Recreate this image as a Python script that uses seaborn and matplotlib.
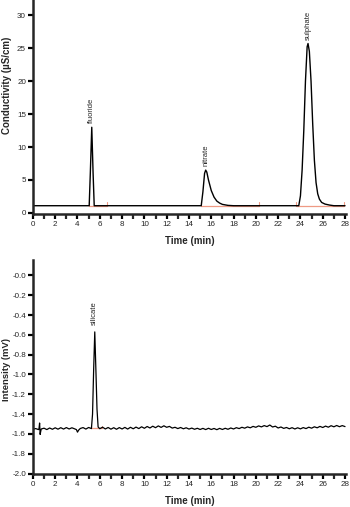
import numpy as np
import pandas as pd
import matplotlib
matplotlib.use("Agg")
import matplotlib.pyplot as plt
from matplotlib.ticker import MultipleLocator, FuncFormatter
import seaborn as sns

# ---------------- data ----------------
# top chromatogram: conductivity trace
cond_time = [0.0, 5.05, 5.15, 5.28, 5.40, 5.50, 15.10, 15.25, 15.40, 15.50, 15.60,
             15.75, 16.00, 16.25, 16.50, 16.75, 17.00, 17.50, 18.00, 23.85, 24.00,
             24.15, 24.30, 24.45, 24.60, 24.68, 24.80, 24.95, 25.10, 25.25, 25.40,
             25.55, 25.70, 25.90, 26.20, 26.60, 27.00, 28.00]
cond_value = [1.1, 1.1, 6.0, 13.0, 6.0, 1.1, 1.1, 3.2, 6.0, 6.5, 6.2,
              5.0, 3.4, 2.4, 1.8, 1.5, 1.3, 1.15, 1.1, 1.1, 2.6,
              6.5, 12.5, 20.0, 25.2, 25.7, 24.5, 20.0, 13.5, 8.0, 4.6,
              2.9, 2.1, 1.6, 1.35, 1.2, 1.1, 1.1]
cond_baseline_start = [5.0, 15.05, 23.6]
cond_baseline_end = [6.65, 20.25, 27.95]
cond_baseline_level = [1.05, 1.05, 1.05]
cond_peaks = ["fluoride", "nitrate", "sulphate"]
cond_peak_time = [5.28, 15.50, 24.68]
cond_peak_height = [13.0, 6.5, 25.7]

# bottom chromatogram: intensity trace
int_time = [0.0, 0.25, 0.5, 0.55, 0.6, 0.65, 0.7, 0.75, 1.0, 1.25, 1.5, 1.75,
            2.0, 2.25, 2.5, 2.75, 3.0, 3.25, 3.5, 3.75, 3.9, 4.0, 4.1, 4.25,
            4.5, 4.75, 5.0, 5.25, 5.35, 5.45, 5.55, 5.65, 5.75, 5.85, 6.0, 6.25,
            6.5, 6.75, 7.0, 7.25, 7.5, 7.75, 8.0, 8.25, 8.5, 8.75, 9.0, 9.25,
            9.5, 9.75, 10.0, 10.25, 10.5, 10.75, 11.0, 11.25, 11.5, 11.75, 12.0, 12.25,
            12.5, 12.75, 13.0, 13.25, 13.5, 13.75, 14.0, 14.25, 14.5, 14.75, 15.0, 15.25,
            15.5, 15.75, 16.0, 16.25, 16.5, 16.75, 17.0, 17.25, 17.5, 17.75, 18.0, 18.25,
            18.5, 18.75, 19.0, 19.25, 19.5, 19.75, 20.0, 20.25, 20.5, 20.75, 21.0, 21.25,
            21.5, 21.75, 22.0, 22.25, 22.5, 22.75, 23.0, 23.25, 23.5, 23.75, 24.0, 24.25,
            24.5, 24.75, 25.0, 25.25, 25.5, 25.75, 26.0, 26.25, 26.5, 26.75, 27.0, 27.25,
            27.5, 27.75, 28.0]
int_value = [-1.552, -1.546, -1.556, -1.545, -1.490, -1.605, -1.575, -1.550, -1.542, -1.556, -1.540, -1.553,
             -1.538, -1.552, -1.537, -1.551, -1.536, -1.550, -1.538, -1.549, -1.556, -1.582, -1.562, -1.545,
             -1.536, -1.551, -1.535, -1.546, -1.400, -0.950, -0.570, -0.950, -1.350, -1.530, -1.547, -1.532,
             -1.550, -1.535, -1.552, -1.537, -1.553, -1.536, -1.550, -1.534, -1.551, -1.533, -1.548, -1.531,
             -1.546, -1.528, -1.543, -1.525, -1.540, -1.522, -1.537, -1.519, -1.534, -1.518, -1.533, -1.524,
             -1.541, -1.533, -1.546, -1.535, -1.548, -1.538, -1.551, -1.541, -1.553, -1.543, -1.555, -1.544,
             -1.556, -1.543, -1.555, -1.545, -1.557, -1.544, -1.555, -1.543, -1.553, -1.540, -1.550, -1.537,
             -1.546, -1.533, -1.542, -1.529, -1.538, -1.524, -1.533, -1.519, -1.529, -1.516, -1.526, -1.510,
             -1.530, -1.522, -1.540, -1.530, -1.544, -1.535, -1.548, -1.537, -1.550, -1.538, -1.549, -1.536,
             -1.546, -1.532, -1.542, -1.528, -1.538, -1.524, -1.535, -1.521, -1.532, -1.517, -1.528, -1.515,
             -1.527, -1.516, -1.526]
int_baseline_start = [5.2]
int_baseline_end = [6.2]
int_baseline_level = [-1.545]
int_peaks = ["silicate"]
int_peak_time = [5.55]
int_peak_height = [-0.57]

# ---------------- styling ----------------
sns.set_style("ticks")
plt.rcParams["font.family"] = ["Liberation Sans", "DejaVu Sans"]
RED = "#ef9a84"

fig = plt.figure(figsize=(3.5, 5.07), dpi=100)
ax1 = fig.add_axes([0.094, 0.578, 0.895, 0.422])
ax2 = fig.add_axes([0.094, 0.065, 0.895, 0.422])


def style_axis(ax):
    for s in ["top", "right"]:
        ax.spines[s].set_visible(False)
    for s in ["left", "bottom"]:
        ax.spines[s].set_linewidth(1.8)
    ax.set_xlim(0, 28.1)
    ax.xaxis.set_major_locator(MultipleLocator(2))
    ax.xaxis.set_minor_locator(MultipleLocator(1))
    ax.tick_params(axis="both", which="major", width=1.6, length=3.5,
                   labelsize=5.8, pad=1.5, color="black")
    ax.tick_params(axis="x", which="minor", width=1.6, length=3.5)
    ax.set_xlabel("Time (min)", fontsize=7, fontweight="bold", labelpad=6)


def draw_baselines(ax, starts, ends, levels, tick_h):
    for s, e, lv in zip(starts, ends, levels):
        seg = pd.DataFrame({"t": [s, e], "v": [lv, lv]})
        sns.lineplot(data=seg, x="t", y="v", ax=ax, color=RED, lw=0.9, zorder=1)
        for x in (s, e):
            ax.plot([x, x], [lv, lv + tick_h], color=RED, lw=0.8, zorder=1)


# top panel
df1 = pd.DataFrame({"t": cond_time, "v": cond_value})
draw_baselines(ax1, cond_baseline_start, cond_baseline_end, cond_baseline_level, 0.6)
sns.lineplot(data=df1, x="t", y="v", ax=ax1, color="black", lw=1.0, zorder=2,
             estimator=None, sort=False)
ax1.set_ylim(-0.15, 32.3)
ax1.yaxis.set_major_locator(MultipleLocator(5))
style_axis(ax1)
ax1.set_ylabel("Conductivity (\u00b5S/cm)", fontsize=7, fontweight="bold")
ax1.yaxis.set_label_coords(-0.066, 0.6)
for name, t, h in zip(cond_peaks, cond_peak_time, cond_peak_height):
    ax1.text(t, h + 0.6, name, rotation=90, ha="center", va="bottom", fontsize=5.5)

# bottom panel
df2 = pd.DataFrame({"t": int_time, "v": int_value})
draw_baselines(ax2, int_baseline_start, int_baseline_end, int_baseline_level, 0.02)
sns.lineplot(data=df2, x="t", y="v", ax=ax2, color="black", lw=0.9, zorder=2,
             estimator=None, sort=False)
ax2.set_ylim(-2.005, 0.155)
ax2.yaxis.set_major_locator(MultipleLocator(0.2))
ax2.yaxis.set_major_formatter(FuncFormatter(lambda v, p: "-%.1f" % abs(v)))
style_axis(ax2)
ax2.set_ylabel("Intensity (mV)", fontsize=6.8, fontweight="bold")
ax2.yaxis.set_label_coords(-0.069, 0.49)
for name, t, h in zip(int_peaks, int_peak_time, int_peak_height):
    ax2.text(t, h + 0.07, name, rotation=90, ha="center", va="bottom", fontsize=5.5)

fig.savefig("out.png", dpi=100)
